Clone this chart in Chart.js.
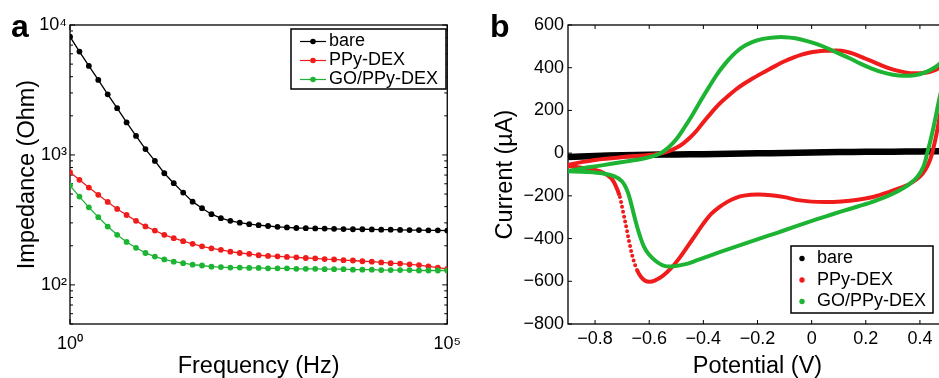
<!DOCTYPE html>
<html>
<head>
<meta charset="utf-8">
<script src="https://cdn.jsdelivr.net/npm/chart.js@4/dist/chart.umd.min.js"></script>
<style>
  html, body { margin: 0; padding: 0; background: #fff; overflow: hidden; width: 939px; height: 378px; }
  #chart-a { position: absolute; left: 0; top: 0; }
  #chart-b { position: absolute; left: 470px; top: 0; }
  .plabel { position: absolute; font: bold 32px "Liberation Sans", Arial, sans-serif; line-height: 1; color: #000; }
</style>
</head>
<body>
<canvas id="chart-a" width="470" height="378"></canvas>
<canvas id="chart-b" width="490" height="378"></canvas>
<div class="plabel" style="left:11px;top:10px">a</div>
<div class="plabel" style="left:490px;top:10px">b</div>
<script>
// ─── PANEL A: impedance vs frequency (log-log) ──────────────────────────────
const FREQ_HZ = [
  1, 1.334, 1.778, 2.371, 3.162, 4.217, 5.623, 7.499,
  10, 13.34, 17.78, 23.71, 31.62, 42.17, 56.23, 74.99,
  100, 133.4, 177.8, 237.1, 316.2, 421.7, 562.3, 749.9,
  1000, 1334, 1778, 2371, 3162, 4217, 5623, 7499,
  10000, 13335, 17783, 23714, 31623, 42170, 56234, 74989, 100000,
];
const Z_BARE = [
  8130, 6240, 4840, 3780, 2930, 2290, 1780, 1400, 1110, 899, 723, 606, 513, 437, 389, 350,
  326, 311, 301, 293, 288, 284, 280, 277, 274, 273, 272, 271, 270, 269, 268, 268,
  267, 266, 266, 265, 264, 264, 263, 263, 262,
];
const Z_PPY = [
  736, 643, 561, 493, 435, 384, 345, 311, 282, 262, 243, 229, 217, 207, 198, 191,
  186, 180, 176, 173, 169, 167, 166, 164, 163, 161, 160, 158, 157, 155, 154, 152,
  151, 149, 147, 146, 144, 142, 139, 136, 133,
];
const Z_GO = [
  581, 478, 395, 332, 281, 243, 214, 193, 176, 165, 157, 151, 147, 143, 141, 138,
  137, 136, 136, 135, 135, 134, 134, 134, 133, 133, 133, 132, 132, 132, 131, 131,
  131, 130, 130, 130, 130, 129, 129, 129, 129,
];
const F_TICKS = [1, 100000];
const Z_TICKS_MAJOR = [100, 1000, 10000];
const Z_TICKS_MINOR = [50, 60, 70, 80, 90, 200, 300, 400, 500, 600, 700, 800, 900,
  2000, 3000, 4000, 5000, 6000, 7000, 8000, 9000];

// ─── PANEL B: cyclic voltammetry ────────────────────────────────────────────
const E_BARE = [-0.9, -0.8, -0.7, -0.6, -0.5, -0.4, -0.3, -0.2, -0.1, 0, 0.1, 0.2, 0.3, 0.4, 0.5];
const I_BARE = [-18, -13, -10, -8, -6, -5, -3, -1, 1, 3, 5, 6, 7, 8, 9];

const E_PPY = [
  -0.90, -0.85, -0.80, -0.74, -0.68, -0.62, -0.59, -0.56, -0.53, -0.50, -0.475, -0.45, -0.425,
  -0.40, -0.37, -0.34, -0.31, -0.28, -0.25, -0.22, -0.19, -0.16, -0.13, -0.10, -0.07, -0.04,
  -0.01, 0.02, 0.05, 0.08, 0.11, 0.14, 0.17, 0.20, 0.23, 0.26, 0.29, 0.32, 0.35, 0.38, 0.41,
  0.44, 0.47, 0.50,
  0.49, 0.475, 0.462, 0.45, 0.438, 0.42, 0.40, 0.37, 0.34, 0.29, 0.23, 0.17, 0.11, 0.05, 0.00,
  -0.05, -0.10, -0.15, -0.20, -0.25, -0.28, -0.31, -0.34, -0.37, -0.40, -0.43, -0.46, -0.49,
  -0.52, -0.55, -0.58, -0.60, -0.615, -0.63, -0.645, -0.66, -0.673, -0.685, -0.697, -0.71,
  -0.725, -0.74, -0.77, -0.80, -0.85, -0.90,
];
const I_PPY = [
  -55, -42, -32, -24, -16, -11, -7, -2, 8, 25, 45, 72, 105,
  145, 190, 232, 266, 298, 325, 348, 370, 391, 411, 430, 446, 460,
  470, 476, 479, 480, 479, 471, 458, 442, 426, 410, 396, 385, 377, 374, 375,
  382, 398, 440,
  300, 185, 95, 25, -30, -78, -110, -138, -157, -180, -204, -218, -226, -229, -227,
  -220, -206, -197, -194, -199, -209, -227, -252, -283, -330, -385, -440, -494,
  -540, -575, -597, -602, -597, -580, -547, -492, -422, -345, -272, -198,
  -150, -118, -92, -79, -68, -60,
];

const E_GO = [
  -0.90, -0.85, -0.80, -0.74, -0.68, -0.62, -0.58, -0.555, -0.53, -0.50, -0.47, -0.44, -0.41,
  -0.38, -0.35, -0.32, -0.29, -0.26, -0.22, -0.18, -0.14, -0.10, -0.06, -0.02, 0.02, 0.06,
  0.10, 0.14, 0.18, 0.22, 0.26, 0.30, 0.34, 0.38, 0.41, 0.44, 0.47, 0.50,
  0.485, 0.47, 0.455, 0.44, 0.428, 0.414, 0.39, 0.36, 0.33, 0.29, 0.23, 0.17, 0.11, 0.05,
  -0.01, -0.07, -0.13, -0.19, -0.25, -0.31, -0.37, -0.42, -0.47, -0.52, -0.55, -0.575, -0.60,
  -0.62, -0.635, -0.65, -0.665, -0.68, -0.70, -0.73, -0.77, -0.83, -0.90,
];
const I_GO = [
  -85, -72, -62, -50, -38, -25, -12, 2, 25, 65, 120, 180, 245,
  308, 368, 418, 460, 493, 520, 535, 542, 543, 538, 526, 510, 490,
  467, 444, 419, 397, 379, 367, 362, 365, 374, 390, 415, 460,
  330, 245, 150, 65, 5, -60, -112, -146, -170, -196, -226, -250, -273, -297,
  -322, -348, -374, -399, -425, -451, -477, -500, -521, -531, -525, -506, -476,
  -436, -385, -320, -245, -180, -133, -108, -95, -88, -85,
];
const V_TICKS = [-0.8, -0.6, -0.4, -0.2, 0, 0.2, 0.4];
const I_TICKS = [-800, -600, -400, -200, 0, 200, 400, 600];

const LABELS = ['bare', 'PPy-DEX', 'GO/PPy-DEX'];
const COLORS = ['#000000', '#f01c1c', '#1cb432'];

const FONT = '"Liberation Sans", Arial, Helvetica, sans-serif';
const SUP = { 0: '\u2070', 1: '\u00b9', 2: '\u00b2', 3: '\u00b3', 4: '\u2074', 5: '\u2075' };
const pow10Label = v => '10' + SUP[Math.round(Math.log10(v))];
const signed = v => (v < 0 ? '\u2212' : '') + String(Math.abs(v));
const pts = (xs, ys) => xs.map((x, i) => ({ x, y: ys[i] }));

// Box round the plot area with MATLAB-style inward tick marks
const frameTicks = {
  id: 'frameTicks',
  beforeDatasetsDraw(chart, args, o) {
    const { ctx, chartArea: a, scales } = chart;
    ctx.save();
    ctx.strokeStyle = '#000';
    ctx.lineWidth = 1.3;
    ctx.strokeRect(a.left, a.top, a.right - a.left, a.bottom - a.top);
    ctx.lineWidth = 1;
    ctx.beginPath();
    for (const t of scales.x.ticks) {
      const px = scales.x.getPixelForValue(t.value);
      const len = t.big === false ? o.minor : o.major;
      ctx.moveTo(px, a.bottom); ctx.lineTo(px, a.bottom - len);
      ctx.moveTo(px, a.top); ctx.lineTo(px, a.top + len);
    }
    for (const t of scales.y.ticks) {
      const py = scales.y.getPixelForValue(t.value);
      const len = t.big === false ? o.minor : o.major;
      ctx.moveTo(a.left, py); ctx.lineTo(a.left + len, py);
      ctx.moveTo(a.right, py); ctx.lineTo(a.right - len, py);
    }
    ctx.stroke();
    ctx.restore();
  },
};

// Boxed legend placed inside the plot
const boxLegend = {
  id: 'boxLegend',
  afterDatasetsDraw(chart, args, o) {
    const { ctx } = chart;
    ctx.save();
    ctx.fillStyle = '#fff';
    ctx.fillRect(o.x, o.y, o.w, o.h);
    ctx.strokeStyle = '#000';
    ctx.lineWidth = 1.5;
    ctx.strokeRect(o.x, o.y, o.w, o.h);
    ctx.font = `18px ${FONT}`;
    ctx.textBaseline = 'middle';
    chart.data.datasets.forEach((ds, i) => {
      const y = o.row0 + i * o.rowGap;
      if (o.lineLen) {
        ctx.strokeStyle = ds.borderColor;
        ctx.lineWidth = 1.2;
        ctx.beginPath();
        ctx.moveTo(o.markX - o.lineLen / 2, y);
        ctx.lineTo(o.markX + o.lineLen / 2, y);
        ctx.stroke();
      }
      ctx.fillStyle = ds.borderColor;
      ctx.beginPath();
      ctx.arc(o.markX, y, o.dot, 0, Math.PI * 2);
      ctx.fill();
      ctx.fillStyle = '#000';
      ctx.fillText(ds.label, o.textX, y);
    });
    ctx.restore();
  },
};

const tickFont = { family: FONT, size: 18 };
const titleFont = { family: FONT, size: 23.5 };
const noGrid = { display: false, drawTicks: false };

new Chart(document.getElementById('chart-a'), {
  type: 'line',
  data: {
    datasets: [Z_BARE, Z_PPY, Z_GO].map((z, i) => ({
      label: LABELS[i],
      data: pts(FREQ_HZ, z),
      borderColor: COLORS[i],
      backgroundColor: COLORS[i],
      borderWidth: 1.3,
      pointRadius: 2.9,
      pointBorderWidth: 0,
      pointBackgroundColor: COLORS[i],
      tension: 0,
      order: 3 - i,
    })),
  },
  options: {
    responsive: false,
    animation: false,
    layout: { padding: { top: 25, right: 18, bottom: 0, left: 0 } },
    scales: {
      x: {
        type: 'logarithmic',
        min: 1, max: 100000,
        afterBuildTicks: s => { s.ticks = F_TICKS.map(v => ({ value: v })); },
        afterFit: s => { s.height = 54; },
        grid: noGrid,
        border: { display: false },
        ticks: { color: '#000', font: tickFont, padding: 9, autoSkip: false, maxRotation: 0,
          callback: v => pow10Label(v) },
        title: { display: true, text: 'Frequency (Hz)', color: '#000', font: titleFont,
          padding: { top: 0, bottom: -3 } },
      },
      y: {
        type: 'logarithmic',
        min: 50, max: 10000,
        afterBuildTicks: s => {
          s.ticks = [...Z_TICKS_MAJOR.map(v => ({ value: v, big: true })),
            ...Z_TICKS_MINOR.map(v => ({ value: v, big: false }))]
            .sort((p, q) => p.value - q.value);
        },
        afterFit: s => { s.width = 70; },
        grid: noGrid,
        border: { display: false },
        ticks: { color: '#000', font: tickFont, padding: 3, autoSkip: false,
          callback: v => Z_TICKS_MAJOR.includes(v) ? pow10Label(v) : '' },
        title: { display: true, text: 'Impedance (Ohm)', color: '#000', font: titleFont,
          padding: { top: 13, bottom: 0 } },
      },
    },
    plugins: {
      legend: { display: false },
      tooltip: { enabled: false },
      frameTicks: { major: 5, minor: 3 },
      boxLegend: { x: 291, y: 29, w: 155, h: 60, row0: 41.5, rowGap: 19,
        markX: 313, lineLen: 26, dot: 2.8, textX: 329 },
    },
  },
  plugins: [frameTicks, boxLegend],
});

// Sparse sampling on the steep part of the PPy-DEX reduction wave shows as dots
const sparseRed = ctx => {
  const a = ctx.p0.parsed, b = ctx.p1.parsed;
  return a.x < -0.64 && b.x < -0.64 && a.y < -190 && b.y < -190;
};

new Chart(document.getElementById('chart-b'), {
  type: 'line',
  data: {
    datasets: [
      { label: LABELS[0], data: pts(E_BARE, I_BARE), borderColor: COLORS[0], borderWidth: 6.5, order: 3 },
      { label: LABELS[1], data: pts(E_PPY, I_PPY), borderColor: COLORS[1], borderWidth: 4, order: 2,
        segment: {
          borderDash: ctx => sparseRed(ctx) ? [0, 5] : undefined,
          borderCapStyle: ctx => sparseRed(ctx) ? 'round' : undefined,
        } },
      { label: LABELS[2], data: pts(E_GO, I_GO), borderColor: COLORS[2], borderWidth: 4, order: 1 },
    ].map(ds => ({ ...ds, pointRadius: 0, tension: 0.35, fill: false })),
  },
  options: {
    responsive: false,
    animation: false,
    layout: { padding: { top: 25, right: 13, bottom: 0, left: 0 } },
    scales: {
      x: {
        type: 'linear',
        min: -0.9, max: 0.5,
        afterBuildTicks: s => { s.ticks = V_TICKS.map(v => ({ value: v })); },
        afterFit: s => { s.height = 54; },
        grid: noGrid,
        border: { display: false },
        ticks: { color: '#000', font: tickFont, padding: 4, autoSkip: false, maxRotation: 0,
          callback: v => signed(v) },
        title: { display: true, text: 'Potential (V)', color: '#000', font: titleFont,
          padding: { top: 0, bottom: -3 } },
      },
      y: {
        type: 'linear',
        min: -800, max: 600,
        afterBuildTicks: s => { s.ticks = I_TICKS.map(v => ({ value: v })); },
        afterFit: s => { s.width = 98; },
        grid: noGrid,
        border: { display: false },
        ticks: { color: '#000', font: tickFont, padding: 4, autoSkip: false,
          callback: v => signed(v) },
        title: { display: true, text: 'Current (\u00b5A)', color: '#000', font: titleFont,
          padding: { top: 21, bottom: 0 } },
      },
    },
    plugins: {
      legend: { display: false },
      tooltip: { enabled: false },
      frameTicks: { major: 4, minor: 4 },
      boxLegend: { x: 321, y: 246, w: 142, h: 67, row0: 258.5, rowGap: 21.5,
        markX: 332, lineLen: 0, dot: 2.7, textX: 347 },
    },
  },
  plugins: [frameTicks, boxLegend],
});
</script>
</body>
</html>
